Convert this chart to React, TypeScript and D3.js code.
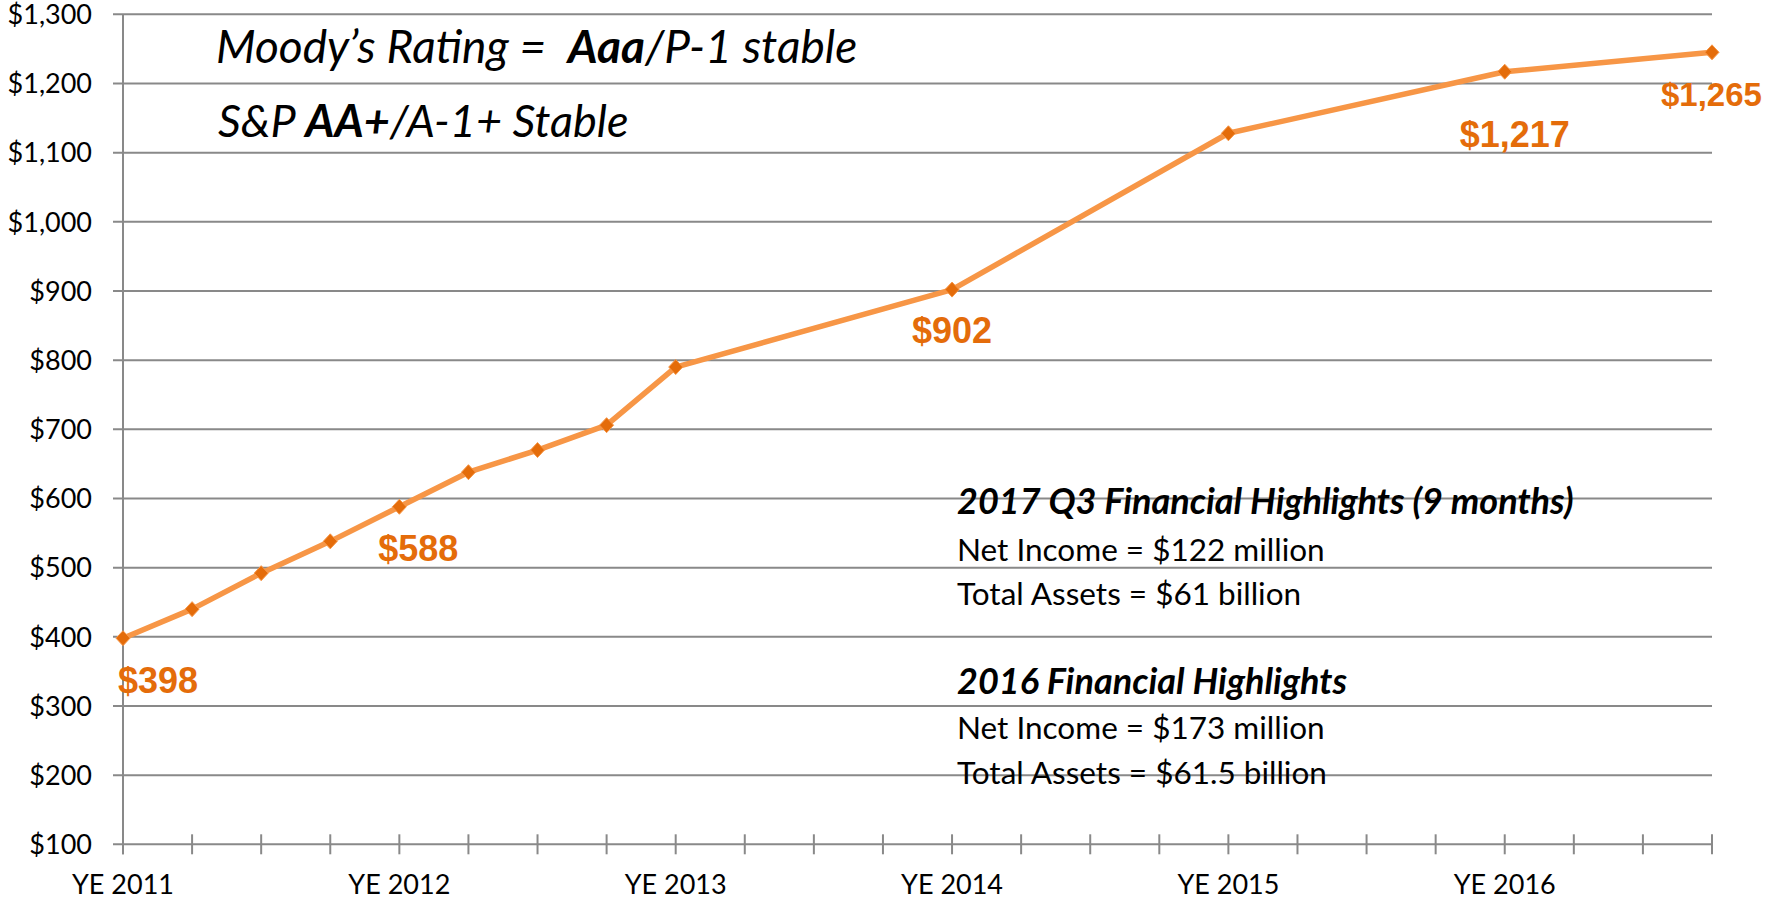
import React from 'react';
import * as d3 from 'd3';

// ---- Data ----
const categories = [
  'YE 2011', 'Q1 2012', 'Q2 2012', 'Q3 2012',
  'YE 2012', 'Q1 2013', 'Q2 2013', 'Q3 2013',
  'YE 2013', 'Q1 2014', 'Q2 2014', 'Q3 2014',
  'YE 2014', 'Q1 2015', 'Q2 2015', 'Q3 2015',
  'YE 2015', 'Q1 2016', 'Q2 2016', 'Q3 2016',
  'YE 2016', 'Q1 2017', 'Q2 2017', 'Q3 2017',
];
const values: (number | null)[] = [
  398, 440, 492, 538,
  588, 638, 670, 706,
  790, null, null, null,
  902, null, null, null,
  1128, null, null, null,
  1217, null, null, 1245,
];
const yTicks = [100, 200, 300, 400, 500, 600, 700, 800, 900, 1000, 1100, 1200, 1300];
const xTickLabels = ['YE 2011', 'YE 2012', 'YE 2013', 'YE 2014', 'YE 2015', 'YE 2016'];
const labelCategories = ['YE 2011', 'YE 2012', 'YE 2014', 'YE 2016', 'Q3 2017'];
const labelTexts = ['$398', '$588', '$902', '$1,217', '$1,265'];

// label placement (layout, not data)
const labelLayout = [
  { dx: 35, dy: 55, anchor: 'middle', size: 36 },
  { dx: 19, dy: 54, anchor: 'middle', size: 36 },
  { dx: 0, dy: 53, anchor: 'middle', size: 36 },
  { dx: 10, dy: 75, anchor: 'middle', size: 36 },
  { dx: -51, dy: 54, anchor: 'start', size: 33 },
];

const W = 1766;
const H = 900;
const left = 123;
const right = 1712;
const top = 14.3;
const bottom = 844.3;

const LINE = '#F79646';
const MARK = '#E46C0A';
const LABEL = '#E46C0A';
const GRID = '#898989';
const FONT = 'Lato, "Open Sans", sans-serif';
const BOLDFONT = '"Liberation Sans", Arial, sans-serif';

export default function App() {
  const x = d3.scalePoint<string>().domain(categories).range([left, right]);
  const y = d3.scaleLinear().domain([100, 1300]).range([bottom, top]);

  const pts = categories
    .map((c, i) => ({ c, v: values[i] }))
    .filter((d) => d.v !== null) as { c: string; v: number }[];

  const line = d3
    .line<{ c: string; v: number }>()
    .x((d) => x(d.c) as number)
    .y((d) => y(d.v));

  const diamond = 'M0,-7.5L7,0L0,7.5L-7,0Z';

  return (
    <svg
      width={W}
      height={H}
      style={{ position: 'absolute', left: 0, top: 0, background: '#fff' }}
    >
      {/* gridlines */}
      {yTicks.map((t) => (
        <line key={t} x1={left - 10} x2={right} y1={y(t)} y2={y(t)} stroke={GRID} strokeWidth={2} />
      ))}
      {/* y axis */}
      <line x1={left} x2={left} y1={top} y2={bottom + 10} stroke={GRID} strokeWidth={2} />
      {/* x ticks */}
      {categories.map((c) => (
        <line key={c} x1={x(c)} x2={x(c)} y1={bottom - 10} y2={bottom + 10} stroke={GRID} strokeWidth={2} />
      ))}
      {/* y tick labels */}
      {yTicks.map((t) => (
        <text
          key={t}
          x={92}
          y={y(t) + 9.8}
          textAnchor="end"
          fontFamily={FONT}
          fontSize={27}
          fill="#000"
        >
          {'$' + d3.format(',')(t)}
        </text>
      ))}
      {/* x tick labels */}
      {xTickLabels.map((c) => (
        <text key={c} x={x(c)} y={894} textAnchor="middle" fontFamily={FONT} fontSize={27} fill="#000">
          {c}
        </text>
      ))}

      {/* series */}
      <path d={line(pts) || ''} fill="none" stroke={LINE} strokeWidth={5.5} strokeLinejoin="round" />
      {pts.map((d) => (
        <path
          key={d.c}
          d={diamond}
          transform={`translate(${x(d.c)},${y(d.v)})`}
          fill={MARK}
          stroke={LINE}
          strokeWidth={1}
        />
      ))}

      {/* data labels */}
      {labelCategories.map((c, i) => {
        const v = values[categories.indexOf(c)] as number;
        const L = labelLayout[i];
        return (
          <text
            key={c}
            x={(x(c) as number) + L.dx}
            y={y(v) + L.dy}
            textAnchor={L.anchor as any}
            fontFamily={BOLDFONT}
            fontWeight="bold"
            fontSize={L.size}
            fill={LABEL}
          >
            {labelTexts[i]}
          </text>
        );
      })}

      {/* ratings annotation */}
      <text x={216} y={63} fontFamily={FONT} fontStyle="italic" fontSize={46} fill="#000" style={{ whiteSpace: 'pre' }}>
        {'Moody\u2019s Rating =  '}
        <tspan fontWeight="bold">Aaa</tspan>
        {'/P-1 stable'}
      </text>
      <text x={218} y={137} fontFamily={FONT} fontStyle="italic" fontSize={45} fill="#000" style={{ whiteSpace: 'pre' }}>
        {'S&P '}
        <tspan fontWeight="bold">AA+</tspan>
        {'/A-1+ Stable'}
      </text>

      {/* financial highlights */}
      <g fontFamily={FONT} fill="#000">
        <text x={957} y={514} fontSize={36} fontWeight="bold" fontStyle="italic">2017 Q3 Financial Highlights (9 months)</text>
        <text x={957} y={561} fontSize={31.5}>Net Income = $122 million</text>
        <text x={957} y={605} fontSize={31.5}>Total Assets = $61 billion</text>
        <text x={957} y={694} fontSize={36} fontWeight="bold" fontStyle="italic">2016 Financial Highlights</text>
        <text x={957} y={739} fontSize={31.5}>Net Income = $173 million</text>
        <text x={957} y={784} fontSize={31.5}>Total Assets = $61.5 billion</text>
      </g>
    </svg>
  );
}
